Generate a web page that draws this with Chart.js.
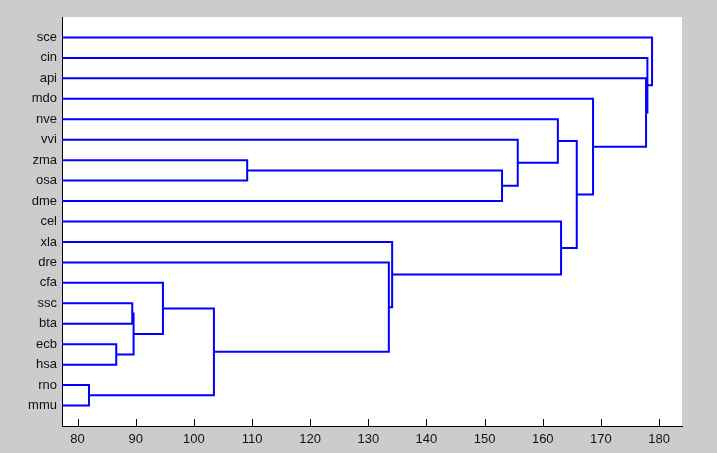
<!DOCTYPE html>
<html>
<head>
<meta charset="utf-8">
<script src="https://cdn.jsdelivr.net/npm/chart.js@4"></script>
<style>
  html, body { margin: 0; padding: 0; background: #cccccc; }
  canvas { display: block; }
</style>
</head>
<body>
<canvas id="dendro" width="717" height="453"></canvas>
<script>
// leaves, top to bottom
var leaves = ['sce', 'cin', 'api', 'mdo', 'nve', 'vvi', 'zma', 'osa', 'dme', 'cel',
              'xla', 'dre', 'cfa', 'ssc', 'bta', 'ecb', 'hsa', 'rno', 'mmu'];

// merges: cN refers to the result of merge number N (1-based)
var mergeA = ['rno', 'ecb', 'ssc', 'c3', 'cfa', 'c5', 'zma', 'dre', 'xla', 'c7',
              'vvi', 'nve', 'cel', 'c12', 'mdo', 'api', 'cin', 'sce'];
var mergeB = ['mmu', 'hsa', 'bta', 'c2', 'c4', 'c1', 'osa', 'c6', 'c8', 'dme',
              'c10', 'c11', 'c9', 'c13', 'c14', 'c15', 'c16', 'c17'];
var mergeHeight = [81.96, 86.65, 89.4, 89.63, 94.68, 103.45, 109.17, 133.53, 134.1, 153.0,
                   155.7, 162.6, 163.15, 165.85, 168.65, 177.77, 178.0, 178.8];

var xTicks = [80, 90, 100, 110, 120, 130, 140, 150, 160, 170, 180];

// node position lookup
function nodeInfo(ref, clusters) {
	if (ref.charAt(0) === 'c' && clusters[ref]) return clusters[ref];
	return { x: 0, y: leaves.indexOf(ref) + 1 };
}

var clusters = {};
var datasets = [];
for (var i = 0; i < mergeHeight.length; i++) {
	var a = nodeInfo(mergeA[i], clusters);
	var b = nodeInfo(mergeB[i], clusters);
	var h = mergeHeight[i];
	datasets.push({
		data: [{x: a.x, y: a.y}, {x: h, y: a.y}, {x: h, y: b.y}, {x: b.x, y: b.y}],
		borderColor: '#0000ff',
		borderWidth: 2,
		pointRadius: 0,
		tension: 0,
		clip: 0
	});
	clusters['c' + (i + 1)] = { x: h, y: (a.y + b.y) / 2 };
}

var plotBg = {
	id: 'plotBg',
	beforeDraw: function(chart) {
		var ca = chart.chartArea, ctx = chart.ctx;
		ctx.save();
		ctx.fillStyle = '#ffffff';
		ctx.fillRect(ca.left, ca.top, ca.right - ca.left, ca.bottom - ca.top);
		ctx.restore();
	},
	beforeDatasetsDraw: function(chart) {
		// inward tick marks on the x axis
		var ca = chart.chartArea, ctx = chart.ctx;
		var xs = chart.scales.x;
		ctx.save();
		ctx.strokeStyle = '#000';
		ctx.lineWidth = 1;
		ctx.beginPath();
		xTicks.forEach(function(v) {
			var px = Math.round(xs.getPixelForValue(v)) + 0.5;
			ctx.moveTo(px, ca.bottom);
			ctx.lineTo(px, ca.bottom - 7);
		});
		ctx.stroke();
		ctx.restore();
	}
};

var ctx = document.getElementById('dendro').getContext('2d');
var chart = new Chart(ctx, {
	type: 'line',
	data: { datasets: datasets },
	plugins: [plotBg],
	options: {
		responsive: false,
		animation: false,
		layout: { padding: { top: 17, right: 35, left: 0, bottom: 0 } },
		plugins: { legend: { display: false }, tooltip: { enabled: false } },
		scales: {
			x: {
				type: 'linear',
				min: 77.32,
				max: 183.95,
				afterBuildTicks: function(scale) {
					scale.ticks = xTicks.map(function(v) { return {value: v}; });
				},
				afterFit: function(scale) { scale.height = 27; },
				grid: { drawOnChartArea: false, drawTicks: false },
				border: { display: true, color: '#000', width: 1 },
				ticks: {
					padding: 6,
					color: '#111',
					font: { family: 'Liberation Sans, Arial, sans-serif', size: 13 },
					maxRotation: 0,
					autoSkip: false
				}
			},
			y: {
				type: 'linear',
				min: 0,
				max: 20,
				reverse: true,
				afterBuildTicks: function(scale) {
					scale.ticks = leaves.map(function(n, k) { return {value: k + 1}; });
				},
				afterFit: function(scale) { scale.width = 62; },
				grid: { drawOnChartArea: false, drawTicks: false },
				border: { display: true, color: '#000', width: 1 },
				ticks: {
					padding: 5,
					color: '#111',
					autoSkip: false,
					font: { family: 'Liberation Sans, Arial, sans-serif', size: 13 },
					callback: function(value) { return leaves[value - 1]; }
				}
			}
		}
	}
});
</script>
</body>
</html>
